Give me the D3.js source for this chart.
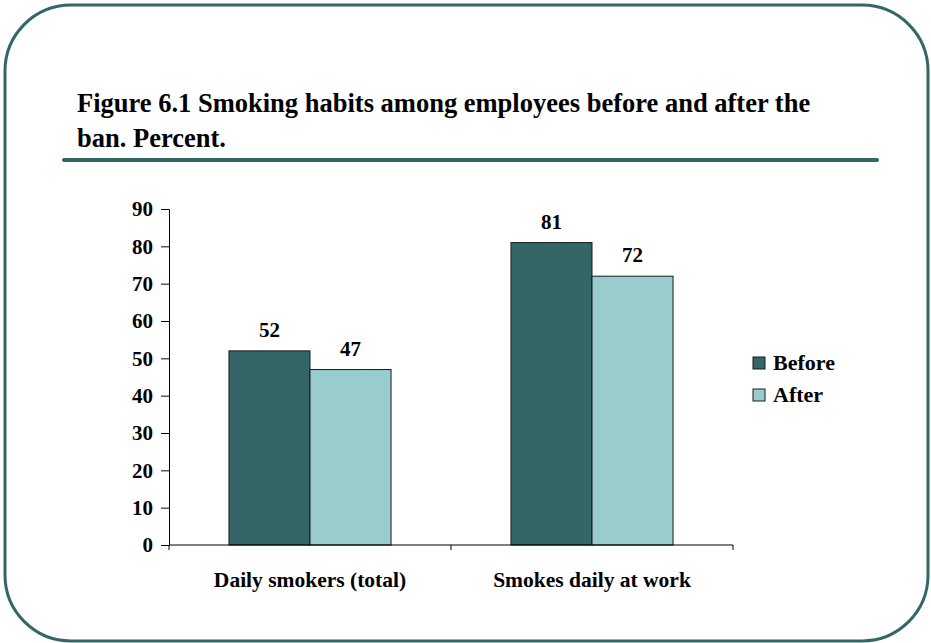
<!DOCTYPE html>
<html>
<head>
<meta charset="utf-8">
<script src="https://cdn.jsdelivr.net/npm/d3@7"></script>
<style>
  html, body { margin: 0; padding: 0; background: #fff; }
  svg { display: block; }
  svg text { font-family: "Liberation Serif", "Times New Roman", Times, serif; font-weight: bold; fill: #000; }
</style>
</head>
<body>
<svg id="chart" width="931" height="643"></svg>
<script>
// Chart data
const categories = ["Daily smokers (total)", "Smokes daily at work"];
const seriesNames = ["Before", "After"];
const before = [52, 81];
const after = [47, 72];
const yTicks = [0, 10, 20, 30, 40, 50, 60, 70, 80, 90];
const titleLines = ["Figure 6.1 Smoking habits among employees before and after the", "ban. Percent."];

const colors = { Before: "#336666", After: "#99CCCC" };
const frameColor = "#336666";
const serif = "'Liberation Serif', 'Times New Roman', Times, serif";

const svg = d3.select("#chart");

// Rounded frame
svg.append("rect")
  .attr("x", 5).attr("y", 5)
  .attr("width", 923).attr("height", 636)
  .attr("rx", 66).attr("ry", 66)
  .attr("fill", "none")
  .attr("stroke", frameColor)
  .attr("stroke-width", 3);

// Title
const title = svg.append("text")
  .attr("x", 77).attr("y", 112)
  .attr("font-family", serif)
  .style("font-size", "26.5px");
titleLines.forEach((t, i) => {
  title.append("tspan").attr("x", 77).attr("dy", i === 0 ? 0 : 35).text(t);
});

// Rule under title
svg.append("line")
  .attr("x1", 64).attr("x2", 877)
  .attr("y1", 160).attr("y2", 160)
  .attr("stroke", frameColor)
  .attr("stroke-width", 4)
  .attr("stroke-linecap", "round");

// Plot area
const plot = { left: 169, right: 733, top: 209, bottom: 545 };

const x0 = d3.scaleBand()
  .domain(categories)
  .range([plot.left, plot.right])
  .paddingInner(0)
  .paddingOuter(0);

const x1 = d3.scaleBand()
  .domain(seriesNames)
  .range([0, x0.bandwidth()])
  .paddingInner(0)
  .paddingOuter(0.74);

const y = d3.scaleLinear()
  .domain([0, 90])
  .range([plot.bottom, plot.top]);

const rows = categories.map((c, i) => ({
  category: c,
  values: [
    { key: "Before", value: before[i] },
    { key: "After", value: after[i] }
  ]
}));

// Bars
const groups = svg.append("g").selectAll("g")
  .data(rows)
  .join("g")
  .attr("transform", d => `translate(${x0(d.category)},0)`);

groups.selectAll("rect")
  .data(d => d.values)
  .join("rect")
  .attr("x", d => x1(d.key))
  .attr("y", d => y(d.value))
  .attr("width", x1.bandwidth())
  .attr("height", d => y(0) - y(d.value))
  .attr("fill", d => colors[d.key])
  .attr("stroke", "#1a1a1a")
  .attr("stroke-width", 1);

// Value labels
groups.selectAll("text.value")
  .data(d => d.values)
  .join("text")
  .attr("class", "value")
  .attr("x", d => x1(d.key) + x1.bandwidth() / 2)
  .attr("y", d => y(d.value) - 14)
  .attr("text-anchor", "middle")
  .attr("font-family", serif)
  .style("font-size", "21px")
  .text(d => d.value);

// Y axis
const yAxis = svg.append("g")
  .attr("transform", `translate(${plot.left},0)`)
  .call(d3.axisLeft(y).tickValues(yTicks).tickSize(8).tickPadding(8).tickFormat(d3.format("d")));
yAxis.select(".domain").attr("stroke", "#000").attr("stroke-width", 1);
yAxis.selectAll(".tick line").attr("stroke", "#000");
yAxis.selectAll(".tick text")
  .attr("font-family", serif)
  .style("font-weight", "bold")
  .style("font-size", "21px")
  .attr("fill", "#000");

// X axis: ticks at category boundaries
const xAxis = svg.append("g").attr("transform", `translate(0,${plot.bottom})`);
xAxis.append("line")
  .attr("x1", plot.left).attr("x2", plot.right)
  .attr("y1", 0).attr("y2", 0)
  .attr("stroke", "#000");
const boundaries = [plot.left, ...categories.map(c => x0(c) + x0.bandwidth())];
xAxis.selectAll("line.tick")
  .data(boundaries)
  .join("line")
  .attr("class", "tick")
  .attr("x1", d => d).attr("x2", d => d)
  .attr("y1", 0).attr("y2", 5)
  .attr("stroke", "#000");
xAxis.selectAll("text")
  .data(categories)
  .join("text")
  .attr("x", d => x0(d) + x0.bandwidth() / 2)
  .attr("y", 42)
  .attr("text-anchor", "middle")
  .attr("font-family", serif)
  .style("font-size", "21.5px")
  .text(d => d);

// Legend
const legend = svg.append("g").attr("transform", "translate(753,357)");
const items = legend.selectAll("g")
  .data(seriesNames)
  .join("g")
  .attr("transform", (d, i) => `translate(0,${i * 32})`);
items.append("rect")
  .attr("width", 12).attr("height", 12)
  .attr("fill", d => colors[d])
  .attr("stroke", "#1a1a1a")
  .attr("stroke-width", 1);
items.append("text")
  .attr("x", 20).attr("y", 13)
  .attr("font-family", serif)
  .style("font-size", "22px")
  .text(d => d);
</script>
</body>
</html>
